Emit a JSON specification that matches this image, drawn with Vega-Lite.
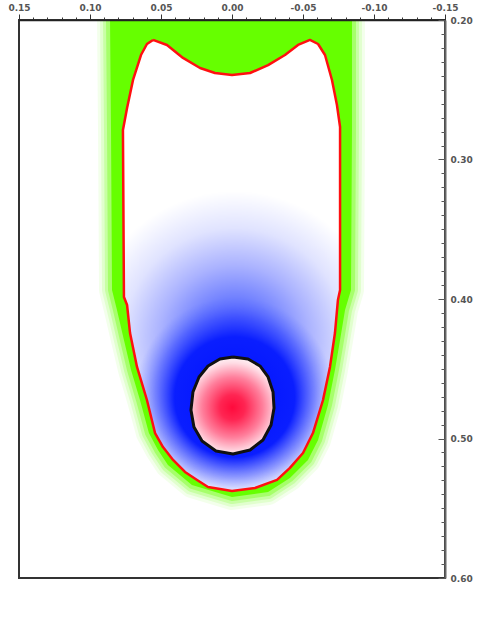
{
  "$schema": "https://vega.github.io/schema/vega-lite/v6.json",
  "width": 426,
  "height": 558,
  "autosize": "none",
  "padding": {"left": 19, "top": 20, "right": 39, "bottom": 48},
  "background": "white",
  "config": {"view": {"stroke": "#333", "strokeWidth": 2}},
  "datasets": {
    "green": [
      {"x": 0.0859, "y": 0.2}, {"x": 0.0852, "y": 0.2789}, {"x": 0.0845, "y": 0.3935}, {"x": 0.0810, "y": 0.4079},
      {"x": 0.0761, "y": 0.4294}, {"x": 0.0711, "y": 0.4509}, {"x": 0.0648, "y": 0.4724}, {"x": 0.0585, "y": 0.4961},
      {"x": 0.0521, "y": 0.5082}, {"x": 0.0451, "y": 0.5190}, {"x": 0.0282, "y": 0.5333}, {"x": 0.0, "y": 0.5419},
      {"x": -0.0254, "y": 0.5384}, {"x": -0.0408, "y": 0.5283}, {"x": -0.0535, "y": 0.5154}, {"x": -0.0606, "y": 0.5011},
      {"x": -0.0676, "y": 0.4760}, {"x": -0.0725, "y": 0.4509}, {"x": -0.0761, "y": 0.4294}, {"x": -0.0796, "y": 0.4079},
      {"x": -0.0838, "y": 0.3935}, {"x": -0.0845, "y": 0.2789}, {"x": -0.0845, "y": 0.2}, {"x": 0.0859, "y": 0.2}
    ],
    "outline": [
      {"x": 0.0556, "y": 0.2143}, {"x": 0.0458, "y": 0.2179}, {"x": 0.0345, "y": 0.2272}, {"x": 0.0225, "y": 0.2344},
      {"x": 0.0120, "y": 0.2380}, {"x": 0.0, "y": 0.2394}, {"x": -0.0127, "y": 0.2380}, {"x": -0.0254, "y": 0.2323},
      {"x": -0.0373, "y": 0.2251}, {"x": -0.0465, "y": 0.2179}, {"x": -0.0549, "y": 0.2143}, {"x": -0.0606, "y": 0.2172},
      {"x": -0.0655, "y": 0.2251}, {"x": -0.0704, "y": 0.2430}, {"x": -0.0739, "y": 0.2609}, {"x": -0.0761, "y": 0.2767},
      {"x": -0.0761, "y": 0.3935}, {"x": -0.0746, "y": 0.4007}, {"x": -0.0725, "y": 0.4244}, {"x": -0.0690, "y": 0.4487},
      {"x": -0.0641, "y": 0.4724}, {"x": -0.0570, "y": 0.4961}, {"x": -0.0500, "y": 0.5104}, {"x": -0.0408, "y": 0.5211},
      {"x": -0.0317, "y": 0.5297}, {"x": -0.0162, "y": 0.5355}, {"x": 0.0, "y": 0.5376}, {"x": 0.0169, "y": 0.5348},
      {"x": 0.0246, "y": 0.5297}, {"x": 0.0331, "y": 0.5240}, {"x": 0.0415, "y": 0.5154}, {"x": 0.0486, "y": 0.5061},
      {"x": 0.0542, "y": 0.4961}, {"x": 0.0599, "y": 0.4724}, {"x": 0.0669, "y": 0.4487}, {"x": 0.0718, "y": 0.4244},
      {"x": 0.0739, "y": 0.4043}, {"x": 0.0761, "y": 0.3986}, {"x": 0.0768, "y": 0.2789}, {"x": 0.0739, "y": 0.2631},
      {"x": 0.0697, "y": 0.2430}, {"x": 0.0641, "y": 0.2251}, {"x": 0.0599, "y": 0.2172}, {"x": 0.0556, "y": 0.2143}
    ],
    "core": [
      {"x": -0.0007, "y": 0.4416}, {"x": -0.0113, "y": 0.4430}, {"x": -0.0197, "y": 0.4480}, {"x": -0.0254, "y": 0.4559},
      {"x": -0.0289, "y": 0.4667}, {"x": -0.0296, "y": 0.4781}, {"x": -0.0275, "y": 0.4903}, {"x": -0.0218, "y": 0.5011},
      {"x": -0.0127, "y": 0.5082}, {"x": -0.0007, "y": 0.5111}, {"x": 0.0113, "y": 0.5090}, {"x": 0.0211, "y": 0.5018},
      {"x": 0.0268, "y": 0.4918}, {"x": 0.0289, "y": 0.4796}, {"x": 0.0275, "y": 0.4667}, {"x": 0.0232, "y": 0.4559},
      {"x": 0.0169, "y": 0.4480}, {"x": 0.0085, "y": 0.4430}, {"x": -0.0007, "y": 0.4416}
    ]
  },
  "encoding": {
    "x": {
      "field": "x", "type": "quantitative", "title": null,
      "scale": {"domain": [-0.15, 0.15], "reverse": true, "nice": false, "zero": false},
      "axis": {
        "orient": "top",
        "values": [-0.15,-0.14,-0.13,-0.12,-0.11,-0.1,-0.09,-0.08,-0.07,-0.06,-0.05,-0.04,-0.03,-0.02,-0.01,0,0.01,0.02,0.03,0.04,0.05,0.06,0.07,0.08,0.09,0.1,0.11,0.12,0.13,0.14,0.15],
        "labelExpr": "abs(round(datum.value*100)) % 5 == 0 ? replace(format(datum.value, '.2f'), '\u2212', '-') : ''",
        "labelFlush": false, "labelOverlap": false,
        "tickSize": {"condition": {"test": "abs(round(datum.value*100)) % 5 == 0", "value": 6}, "value": 3},
        "tickColor": "#333", "domainColor": "#222", "domainWidth": 1.5,
        "labelFont": "DejaVu Sans", "labelFontSize": 9, "labelFontWeight": "bold", "labelColor": "#555",
        "labelPadding": 2, "grid": false, "zindex": 1
      }
    },
    "y": {
      "field": "y", "type": "quantitative", "title": null,
      "scale": {"domain": [0.2, 0.6], "reverse": true, "nice": false, "zero": false},
      "axis": {
        "orient": "right",
        "values": [0.2,0.21,0.22,0.23,0.24,0.25,0.26,0.27,0.28,0.29,0.3,0.31,0.32,0.33,0.34,0.35,0.36,0.37,0.38,0.39,0.4,0.41,0.42,0.43,0.44,0.45,0.46,0.47,0.48,0.49,0.5,0.51,0.52,0.53,0.54,0.55,0.56,0.57,0.58,0.59,0.6],
        "labelExpr": "abs(round(datum.value*100)) % 10 == 0 ? format(datum.value, '.2f') : ''",
        "labelFlush": false, "labelOverlap": false,
        "tickSize": {"condition": {"test": "abs(round(datum.value*100)) % 10 == 0", "value": -7}, "value": -4},
        "tickColor": "#555", "domainColor": "#666", "domainWidth": 2,
        "labelFont": "DejaVu Sans", "labelFontSize": 9, "labelFontWeight": "bold", "labelColor": "#555",
        "labelPadding": 12, "labelBaseline": "middle", "grid": false, "zindex": 1
      }
    }
  },
  "layer": [
    {"data": {"name": "green"}, "mark": {"type": "line", "clip": true, "stroke": "#66ff00", "strokeWidth": 26, "strokeOpacity": 0.08, "strokeJoin": "round"}, "encoding": {"order": {"value": null}}},
    {"data": {"name": "green"}, "mark": {"type": "line", "clip": true, "stroke": "#66ff00", "strokeWidth": 20, "strokeOpacity": 0.12, "strokeJoin": "round"}, "encoding": {"order": {"value": null}}},
    {"data": {"name": "green"}, "mark": {"type": "line", "clip": true, "stroke": "#66ff00", "strokeWidth": 14, "strokeOpacity": 0.2, "strokeJoin": "round"}, "encoding": {"order": {"value": null}}},
    {"data": {"name": "green"}, "mark": {"type": "line", "clip": true, "stroke": "#66ff00", "strokeWidth": 8, "strokeOpacity": 0.35, "strokeJoin": "round"}, "encoding": {"order": {"value": null}}},
    {"data": {"name": "green"}, "mark": {"type": "line", "clip": true, "fill": "#66ff00", "strokeOpacity": 0}, "encoding": {"order": {"value": null}}},
    {"data": {"name": "outline"}, "mark": {"type": "line", "strokeOpacity": 0,
      "fill": {"gradient": "radial", "x1": 0.507, "y1": 0.665, "r1": 0, "x2": 0.507, "y2": 0.665, "r2": 0.33,
        "stops": [{"offset": 0, "color": "#3a4aff"}, {"offset": 0.28, "color": "#7080ff"}, {"offset": 0.5, "color": "#aab2ff"}, {"offset": 0.75, "color": "#e0e3ff"}, {"offset": 1, "color": "#ffffff"}]}},
      "encoding": {"order": {"value": null}}},
    {"data": {"name": "outline"}, "mark": {"type": "line", "strokeOpacity": 0,
      "fill": {"gradient": "radial", "x1": 0.507, "y1": 0.792, "r1": 0, "x2": 0.507, "y2": 0.792, "r2": 0.222,
        "stops": [{"offset": 0, "color": "rgba(0,16,255,1)"}, {"offset": 0.6, "color": "rgba(10,30,255,1)"}, {"offset": 0.8, "color": "rgba(40,60,255,0.5)"}, {"offset": 1, "color": "rgba(90,110,255,0)"}]}},
      "encoding": {"order": {"value": null}}},
    {"data": {"name": "outline"}, "mark": {"type": "line", "stroke": "#ff1010", "strokeWidth": 2.5, "strokeJoin": "round"}, "encoding": {"order": {"value": null}}},
    {"data": {"name": "core"}, "mark": {"type": "line", "stroke": "#111", "strokeWidth": 3, "strokeJoin": "round",
      "fill": {"gradient": "radial", "x1": 0.5, "y1": 0.52, "r1": 0, "x2": 0.5, "y2": 0.52, "r2": 0.52,
        "stops": [{"offset": 0, "color": "#ff0a3c"}, {"offset": 0.25, "color": "#ff2552"}, {"offset": 0.6, "color": "#ff7f9c"}, {"offset": 0.88, "color": "#ffdbe4"}, {"offset": 1, "color": "#fff4f7"}]}},
      "encoding": {"order": {"value": null}}},
    {"data": {"values": [{"y": 0.3}]}, "mark": {"type": "rule", "color": "#999", "strokeWidth": 1}, "encoding": {"x": {"datum": -0.15}, "x2": {"datum": 0.15}}},
    {"data": {"values": [{"y": 0.4}, {"y": 0.5}]}, "mark": {"type": "rule", "color": "#333", "strokeWidth": 2}, "encoding": {"x": {"datum": -0.15}, "x2": {"datum": 0.15}}}
  ]
}
